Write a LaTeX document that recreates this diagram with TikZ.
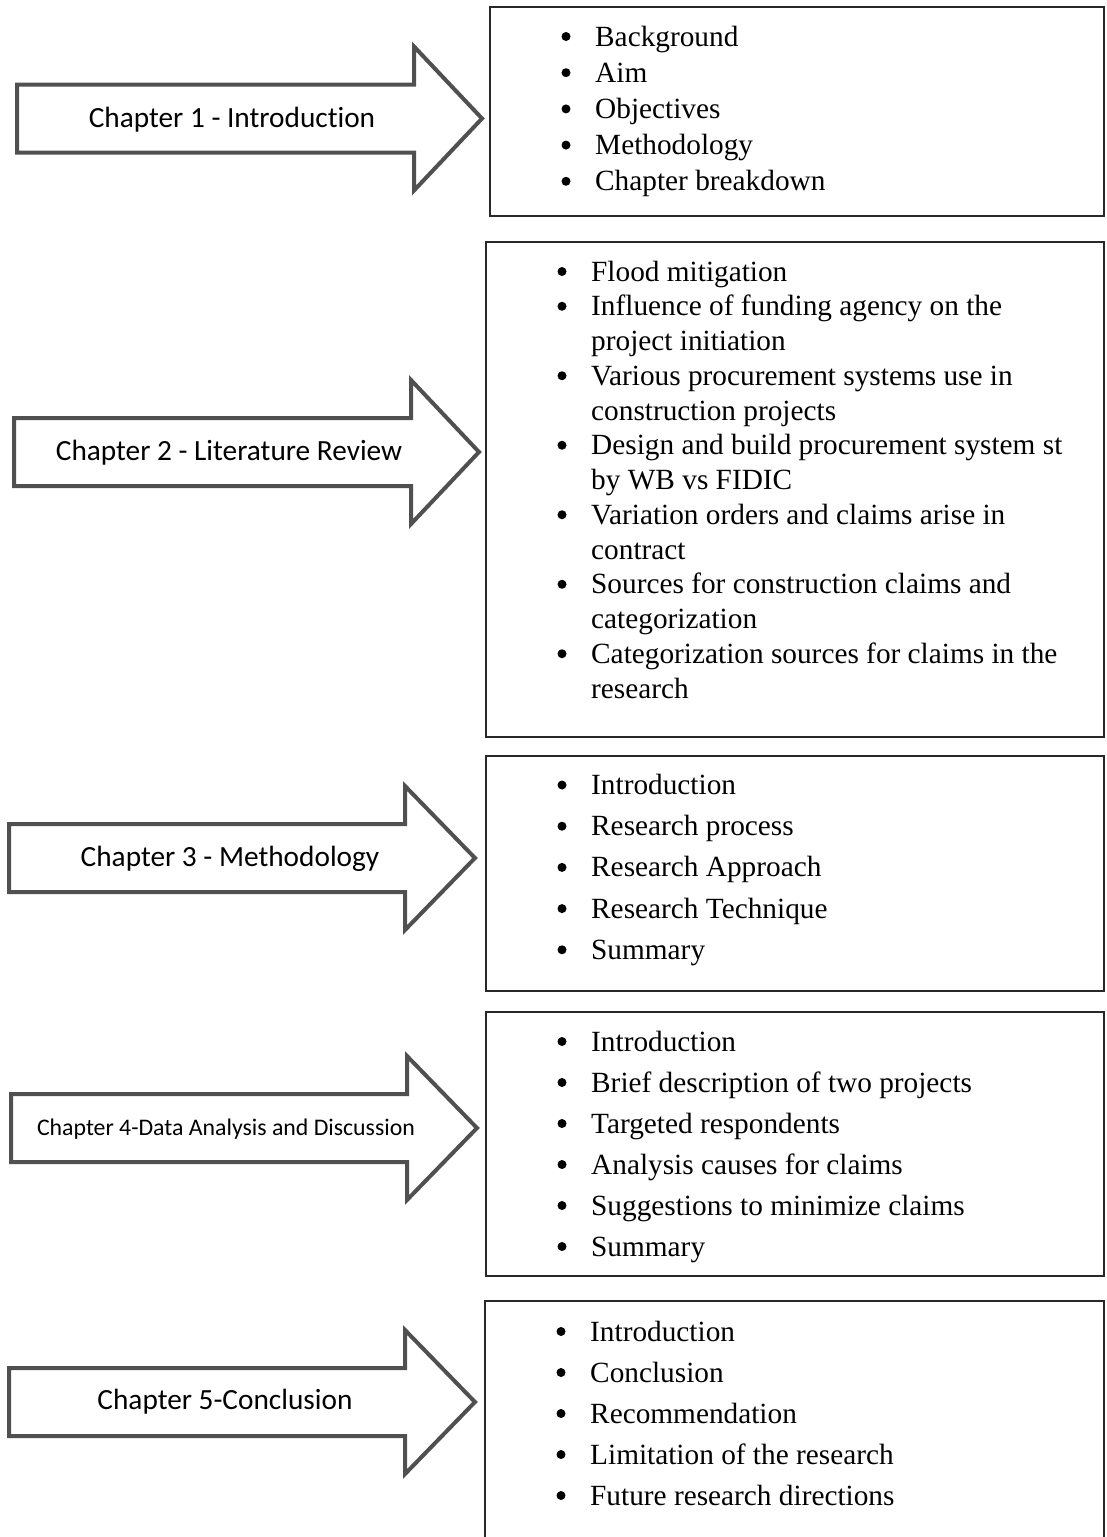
\documentclass[tikz,border=0pt]{standalone}
\usepackage{fontspec}
\setmainfont{Liberation Serif}
\newfontfamily\calibfont[RawFeature={-liga;-dlig}]{Carlito}

\definecolor{arrowgray}{RGB}{80,80,80}
\definecolor{boxline}{RGB}{40,40,40}

\tikzset{
  chaparrow/.style={draw=arrowgray, line width=4pt, fill=white, line join=miter},
  chaplabel/.style={font=\calibfont\fontsize{29.3}{35}\selectfont, inner sep=0pt, anchor=center},
  smalllabel/.style={chaplabel, font=\calibfont\fontsize{23.8}{29}\selectfont},
  listbox/.style={draw=boxline, line width=1.3pt},
  bulletdot/.style={circle, fill=black, inner sep=0pt, minimum size=9pt},
  itemtext/.style={font=\fontsize{29.3}{35}\selectfont, inner sep=0pt, anchor=base west},
}

% block arrow: tail x, head base x, tip x, centre y
\newcommand\chapterarrow[4]{%
  \draw[chaparrow] (#1,#4-34) -- (#2,#4-34) -- (#2,#4-72) -- (#3,#4)
    -- (#2,#4+72) -- (#2,#4+34) -- (#1,#4+34) -- cycle;}

% bulleted entry: name, bullet x, text x, baseline y, text
\newcommand\bulletentry[5]{%
  \node[bulletdot] (#1-dot) at (#2,#4-9.5) {};
  \node[itemtext] (#1) at (#3,#4) {#5};}

% wrapped continuation line: name, text x, baseline y, text
\newcommand\wrapline[4]{%
  \node[itemtext] (#1) at (#2,#3) {#4};}

\begin{document}
\begin{tikzpicture}[x=1pt, y=-1pt]
\useasboundingbox (0,0) rectangle (1106,1537);

% ---------- Chapter 1 ----------
\chapterarrow{17}{414}{482}{118.5}
\node[chaplabel] (ch1) at (232,120) {Chapter 1 - Introduction};
\draw[listbox] (490,7) rectangle (1104,216);
\bulletentry{b1a}{566}{595}{46}{Background}
\bulletentry{b1b}{566}{595}{82.2}{Aim}
\bulletentry{b1c}{566}{595}{118.4}{Objectives}
\bulletentry{b1d}{566}{595}{154.6}{Methodology}
\bulletentry{b1e}{566}{595}{190.8}{Chapter breakdown}

% ---------- Chapter 2 ----------
\chapterarrow{14}{411}{479}{452}
\node[chaplabel] (ch2) at (229,453) {Chapter 2 - Literature Review};
\draw[listbox] (486,242) rectangle (1104,737);
\bulletentry{b2a}{562}{591}{281}{Flood mitigation}
\bulletentry{b2b}{562}{591}{315.75}{Influence of funding agency on the}
\wrapline{b2b2}{591}{350.5}{project initiation}
\bulletentry{b2c}{562}{591}{385.25}{Various procurement systems use in}
\wrapline{b2c2}{591}{420}{construction projects}
\bulletentry{b2d}{562}{591}{454.75}{Design and build procurement system st}
\wrapline{b2d2}{591}{489.5}{by WB vs FIDIC}
\bulletentry{b2e}{562}{591}{524.25}{Variation orders and claims arise in}
\wrapline{b2e2}{591}{559}{contract}
\bulletentry{b2f}{562}{591}{593.75}{Sources for construction claims and}
\wrapline{b2f2}{591}{628.5}{categorization}
\bulletentry{b2g}{562}{591}{663.25}{Categorization sources for claims in the}
\wrapline{b2g2}{591}{698}{research}

% ---------- Chapter 3 ----------
\chapterarrow{9}{405}{475}{858}
\node[chaplabel] (ch3) at (230,859) {Chapter 3 - Methodology};
\draw[listbox] (486,756) rectangle (1104,991);
\bulletentry{b3a}{562}{591}{794.5}{Introduction}
\bulletentry{b3b}{562}{591}{835.7}{Research process}
\bulletentry{b3c}{562}{591}{876.9}{Research Approach}
\bulletentry{b3d}{562}{591}{918.1}{Research Technique}
\bulletentry{b3e}{562}{591}{959.3}{Summary}

% ---------- Chapter 4 ----------
\chapterarrow{11}{407}{477}{1128}
\node[smalllabel] (ch4) at (226,1129) {Chapter 4-Data Analysis and Discussion};
\draw[listbox] (486,1012) rectangle (1104,1276);
\bulletentry{b4a}{562}{591}{1051}{Introduction}
\bulletentry{b4b}{562}{591}{1092}{Brief description of two projects}
\bulletentry{b4c}{562}{591}{1133}{Targeted respondents}
\bulletentry{b4d}{562}{591}{1174}{Analysis causes for claims}
\bulletentry{b4e}{562}{591}{1215}{Suggestions to minimize claims}
\bulletentry{b4f}{562}{591}{1256}{Summary}

% ---------- Chapter 5 ----------
\chapterarrow{9}{405}{475}{1402}
\node[chaplabel] (ch5) at (225,1402) {Chapter 5-Conclusion};
\draw[listbox] (485,1301) rectangle (1104,1545);
\bulletentry{b5a}{561}{590}{1341}{Introduction}
\bulletentry{b5b}{561}{590}{1382}{Conclusion}
\bulletentry{b5c}{561}{590}{1423}{Recommendation}
\bulletentry{b5d}{561}{590}{1464}{Limitation of the research}
\bulletentry{b5e}{561}{590}{1505}{Future research directions}
\end{tikzpicture}
\end{document}
